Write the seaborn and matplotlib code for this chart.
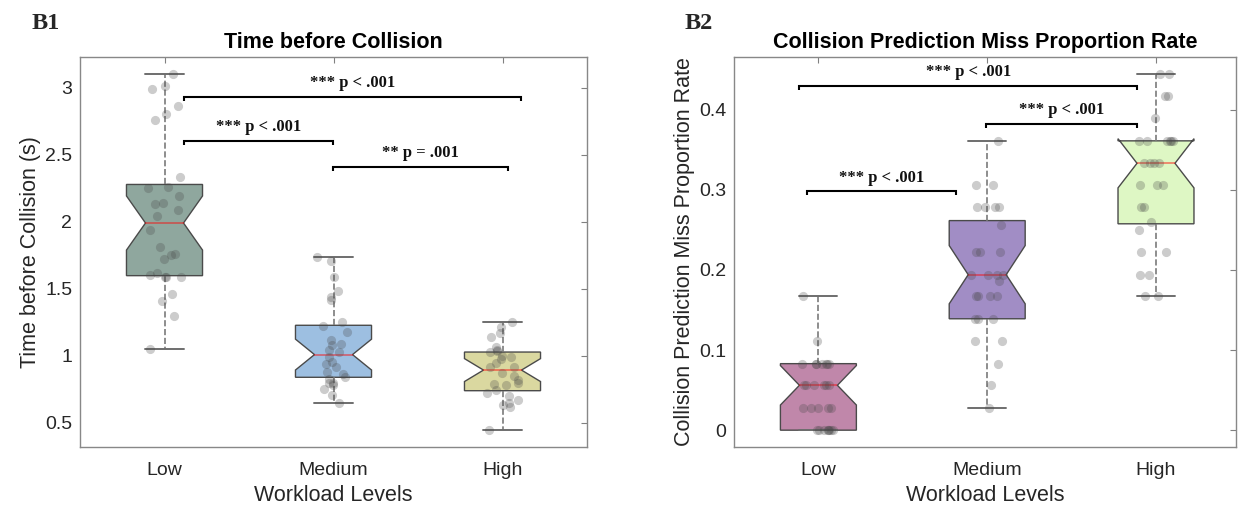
import numpy as np
import pandas as pd
import matplotlib
matplotlib.use("Agg")
import matplotlib.pyplot as plt
import seaborn as sns

# ---------------- data ----------------
levels = ["Low", "Medium", "High"]

tbc_low = [1.05, 1.30, 1.41, 1.46, 1.59, 1.59, 1.59, 1.60, 1.62, 1.72, 1.75, 1.76, 1.81, 1.94,
           2.04, 2.09, 2.13, 2.14, 2.19, 2.25, 2.26, 2.33, 2.76, 2.80, 2.86, 2.99, 3.01, 3.10]
tbc_medium = [0.65, 0.707, 0.75, 0.78, 0.795, 0.795, 0.824, 0.845, 0.864, 0.88, 0.918, 0.94, 0.955, 0.993,
              1.025, 1.04, 1.08, 1.09, 1.12, 1.18, 1.22, 1.25, 1.415, 1.44, 1.48, 1.59, 1.71, 1.735]
tbc_high = [0.446, 0.62, 0.633, 0.645, 0.67, 0.70, 0.724, 0.745, 0.78, 0.79, 0.80, 0.82, 0.849, 0.869,
            0.918, 0.918, 0.95, 0.973, 0.988, 0.998, 1.025, 1.037, 1.04, 1.067, 1.14, 1.167, 1.216, 1.253]

miss_low = [0.000, 0.000, 0.000, 0.000, 0.000, 0.000, 0.000, 0.000, 0.028, 0.028, 0.028, 0.028, 0.028,
            0.056, 0.056, 0.056, 0.056, 0.056, 0.056, 0.083, 0.083, 0.083, 0.083, 0.083, 0.083, 0.083,
            0.111, 0.167]
miss_medium = [0.028, 0.056, 0.083, 0.111, 0.111, 0.139, 0.139, 0.139, 0.167, 0.167, 0.167, 0.167, 0.186,
               0.194, 0.194, 0.194, 0.194, 0.222, 0.222, 0.222, 0.256, 0.278, 0.278, 0.278, 0.278,
               0.306, 0.306, 0.361]
miss_high = [0.167, 0.167, 0.194, 0.194, 0.222, 0.222, 0.250, 0.260, 0.278, 0.278, 0.306, 0.306, 0.306,
             0.333, 0.333, 0.333, 0.333, 0.361, 0.361, 0.361, 0.361, 0.361, 0.361, 0.389, 0.417, 0.417,
             0.444, 0.444]

b1_colors = ["#8FA79E", "#9DBFE1", "#DAD8A0"]
b2_colors = ["#C087AA", "#A18DC5", "#DEF7C4"]

b1_yticks = [0.5, 1, 1.5, 2, 2.5, 3]
b1_yticklabels = ["0.5", "1", "1.5", "2", "2.5", "3"]
b2_yticks = [0, 0.1, 0.2, 0.3, 0.4]
b2_yticklabels = ["0", "0.1", "0.2", "0.3", "0.4"]

# significance brackets (category index coordinates)
b1_sig_x0 = [0.114, 0.114, 0.995]
b1_sig_x1 = [2.11, 0.995, 2.035]
b1_sig_y = [2.93, 2.602, 2.408]
b1_sig_labels = ["*** p < .001", "*** p < .001", "** p = .001"]

b2_sig_x0 = [-0.112, 0.994, -0.069]
b2_sig_x1 = [1.89, 1.89, 0.816]
b2_sig_y = [0.4295, 0.382, 0.298]
b2_sig_labels = ["*** p < .001", "*** p < .001", "*** p < .001"]

# ---------------- style ----------------
sns.set_style("white")
plt.rcParams["font.family"] = ["Liberation Sans", "DejaVu Sans"]
plt.rcParams["axes.unicode_minus"] = False

np.random.seed(7)

fig = plt.figure(figsize=(12.39, 5.08), dpi=100)
W, H = 1239.0, 508.0


def add_axes_px(x0, y_top, x1, y_bottom):
    return fig.add_axes([x0 / W, 1 - y_bottom / H, (x1 - x0) / W, (y_bottom - y_top) / H])


def draw_panel(ax, groups, colors, yticks, yticklabels, ylim, xlim, title, ylabel,
               sx0, sx1, sy, slabels, leg):
    df = pd.DataFrame({
        "Workload": np.repeat(levels, [len(g) for g in groups]),
        "value": np.concatenate([np.asarray(g, float) for g in groups]),
    })
    sns.boxplot(data=df, x="Workload", y="value", hue="Workload", order=levels,
                hue_order=levels, palette=colors, saturation=1, width=0.45,
                whis=(0, 100), notch=True, legend=False, showfliers=False,
                linecolor="#4a4a4a", linewidth=1.0,
                medianprops=dict(color="red", alpha=0.55, linewidth=1.1),
                whiskerprops=dict(color="#7a7a7a", linestyle="--", linewidth=1.2),
                capprops=dict(color="#6e6e6e", linewidth=1.4),
                ax=ax)
    sns.stripplot(data=df, x="Workload", y="value", order=levels, color="#484848",
                  alpha=0.28, size=6.6, jitter=0.1, linewidth=0, zorder=4, ax=ax)

    ax.set_xlim(*xlim)
    ax.set_ylim(*ylim)
    ax.set_yticks(yticks)
    ax.set_yticklabels(yticklabels)
    ax.set_xticks(range(len(levels)))
    ax.set_xticklabels(levels)
    ax.tick_params(axis="both", direction="in", length=4, width=0.8, color="#808080",
                   labelsize=14, labelcolor="#262626", top=True, right=True)
    ax.tick_params(axis="x", pad=11)
    ax.tick_params(axis="y", pad=5.5)
    for sp in ax.spines.values():
        sp.set_color("#888888")
        sp.set_linewidth(1.0)
        sp.set_visible(True)
    ax.set_title(title, fontweight="bold", fontsize=15.5, pad=6.5, color="black")
    ax.set_xlabel("Workload Levels", fontsize=15.5, color="#262626", labelpad=4)
    ax.set_ylabel(ylabel, fontsize=15.5, color="#262626", labelpad=3)

    for x0, x1, y, lab in zip(sx0, sx1, sy, slabels):
        ax.plot([x0, x0, x1, x1], [y - leg, y, y, y - leg], color="black", lw=1.5,
                solid_joinstyle="miter", solid_capstyle="butt", zorder=5, clip_on=False)
        ax.annotate(lab, xy=((x0 + x1) / 2, y), xytext=(0, 7), textcoords="offset points",
                    ha="center", va="baseline", fontsize=12, fontweight="bold",
                    family=["Liberation Serif", "DejaVu Serif"], color="#111111")


ax1 = add_axes_px(80, 56.7, 587, 447)
draw_panel(ax1, [tbc_low, tbc_medium, tbc_high], b1_colors, b1_yticks, b1_yticklabels,
           (0.32, 3.23), (-0.5, 2.5), "Time before Collision", "Time before Collision (s)",
           b1_sig_x0, b1_sig_x1, b1_sig_y, b1_sig_labels, 0.03)

ax2 = add_axes_px(734, 56.7, 1236, 447)
draw_panel(ax2, [miss_low, miss_medium, miss_high], b2_colors, b2_yticks, b2_yticklabels,
           (-0.021, 0.466), (-0.5, 2.474), "Collision Prediction Miss Proportion Rate",
           "Collision Prediction Miss Proportion Rate",
           b2_sig_x0, b2_sig_x1, b2_sig_y, b2_sig_labels, 0.005)

fig.text(32 / W, 1 - 29.3 / H, "B1", fontsize=17.5, fontweight="bold",
         family=["Liberation Serif", "DejaVu Serif"], ha="left", va="baseline")
fig.text(685 / W, 1 - 29.3 / H, "B2", fontsize=17.5, fontweight="bold",
         family=["Liberation Serif", "DejaVu Serif"], ha="left", va="baseline")

fig.savefig("out.png", dpi=100)
